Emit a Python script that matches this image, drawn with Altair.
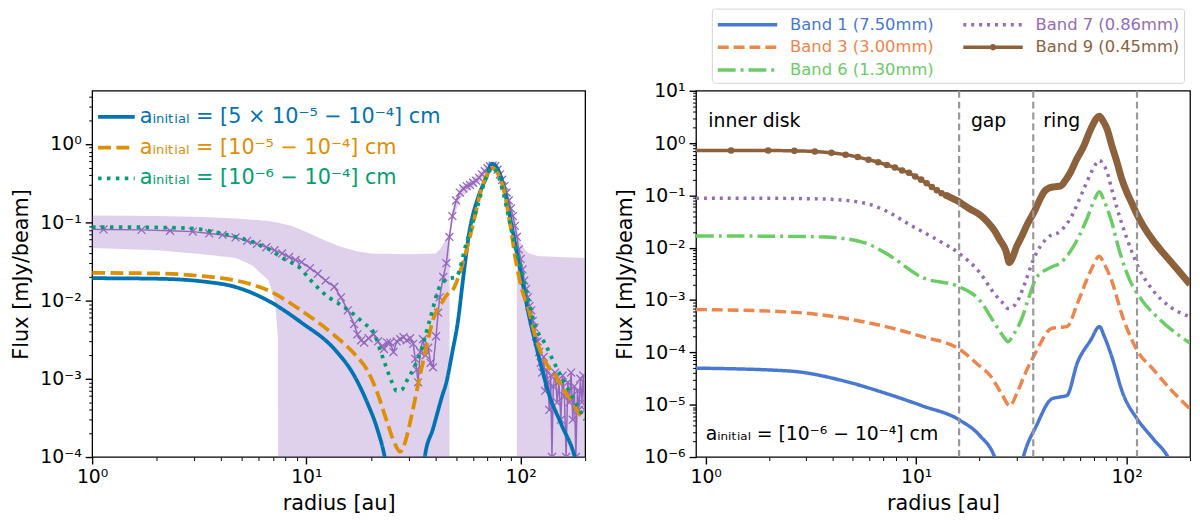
import altair as alt
import pandas as pd

FONT = "DejaVu Sans"

# ---------------- left panel: three initial grain-size ranges ----------------
A_LABELS = [
    "aᵢₙᵢₜᵢₐₗ = [5 × 10⁻⁵ − 10⁻⁴] cm",
    "aᵢₙᵢₜᵢₐₗ = [10⁻⁵ − 10⁻⁴] cm",
    "aᵢₙᵢₜᵢₐₗ = [10⁻⁶ − 10⁻⁴] cm",
]
A_COLORS = ["#0173B2", "#DE8F05", "#029E73"]
A_DASHES = [[1, 0], [13, 5.5], [3.5, 5.5]]

r_a5 = [1, 2, 3.3, 4.7, 6.7, 9.5, 13.5, 16.7, 19.2, 21.4, 23.2, 24.5, 26, 34, 35, 35.7,
        39, 43, 45, 48, 51, 54, 57.6, 63, 69, 73.5, 79, 84, 88, 94, 101, 108, 117, 126,
        135, 155, 179, 190]
f_a5 = [0.0193, 0.019, 0.0175, 0.0148, 0.0098, 0.0052, 0.0024, 0.0011, 0.0005, 0.00023,
        0.0001, 0.00004, 0.00001, 0.00001, 0.00005, 0.0001, 0.00023, 0.0006, 0.0009,
        0.0022, 0.0055, 0.02, 0.075, 0.2, 0.37, 0.56, 0.45, 0.26, 0.14, 0.055, 0.02,
        0.0075, 0.0029, 0.0013, 0.00066, 0.00026, 0.0001, 0.00005]

r_a6 = [1, 2, 3.3, 4.7, 6.7, 9.5, 13.5, 16.7, 19.2, 21.4, 23.8, 25.8, 27.4, 29, 30.5,
        33.9, 36.5, 39, 43, 46, 48.5, 50.5, 53.5, 59.5, 66, 70, 73.5, 79, 84, 89, 94.8,
        102, 109, 117, 125, 135, 145, 160, 175, 190, 200]
f_a6 = [0.0226, 0.0222, 0.0205, 0.018, 0.0133, 0.0074, 0.0036, 0.0021, 0.0013, 0.00067,
        0.00028, 0.00015, 0.000117, 0.00016, 0.00028, 0.0011, 0.0027, 0.0057, 0.0095,
        0.0125, 0.014, 0.018, 0.029, 0.087, 0.28, 0.42, 0.5, 0.4, 0.24, 0.1, 0.033,
        0.013, 0.0077, 0.0035, 0.0021, 0.0014, 0.0011, 0.0007, 0.0005, 0.00034, 0.0003]

r_a7 = [1, 2, 3, 4, 5, 6.7, 8, 9.2, 10.5, 12.6, 14, 16.7, 18.6, 20.6, 23, 25.1, 26.4,
        27.8, 29.4, 33.9, 37.7, 41.9, 46, 50, 55.7, 62, 69, 73.5, 78, 82, 88, 94, 101,
        108, 117, 130, 145, 160, 180, 200]
f_a7 = [0.087, 0.086, 0.083, 0.072, 0.062, 0.045, 0.033, 0.027, 0.018, 0.0112, 0.0093,
        0.0066, 0.0051, 0.0039, 0.0017, 0.0009, 0.0007, 0.00072, 0.00094, 0.0021,
        0.0057, 0.015, 0.019, 0.02, 0.053, 0.14, 0.37, 0.5, 0.42, 0.27, 0.115, 0.05,
        0.025, 0.011, 0.0047, 0.0028, 0.0015, 0.0009, 0.0005, 0.0003]

# observed profile (purple, x markers)
r_obs = [0.55, 1.13, 1.70, 2.31, 2.95, 3.52, 4.06, 4.67, 5.29, 5.88, 6.5, 7.1, 7.7, 8.3,
         8.9, 9.5, 10.4, 11.3, 12.3, 13.5, 14.5, 15.6, 16.7, 17.3, 18.0, 18.6, 19.5,
         20.6, 21.6, 22.5, 23.0, 23.8, 24.6, 25.5, 26.4, 27.4, 28.4, 29.4, 30.5, 31.5,
         32.2, 32.7, 33.2, 34.0, 35.0, 36.0, 37.0, 38.0, 39.0, 40.3, 41.2, 41.9, 43.5,
         45.0, 46.5, 48, 50, 52, 54, 56, 58, 60, 62, 64, 66, 68, 70, 72, 74, 76, 78, 80,
         82, 84, 86, 88, 90, 92, 94, 96, 98, 100, 102, 104, 106, 108, 110, 112, 114, 116,
         118, 120, 122, 124, 126, 128, 130, 132, 134, 136, 138, 140, 142, 145, 148, 151,
         154, 157, 160, 163, 166, 169, 172, 175, 178, 181, 184, 187, 190, 193, 196, 199]
f_obs = [0.082, 0.081, 0.080, 0.078, 0.076, 0.072, 0.069, 0.064, 0.058, 0.053, 0.048,
         0.044, 0.040, 0.036, 0.033, 0.031, 0.026, 0.022, 0.018, 0.015, 0.011, 0.0075,
         0.005, 0.0037, 0.0031, 0.0029, 0.0033, 0.0037, 0.0030, 0.0026, 0.0024, 0.0029,
         0.0029, 0.0022, 0.0030, 0.0032, 0.0034, 0.0031, 0.0033, 0.0028, 0.0018, 0.0013,
         0.0009, 0.0022, 0.0032, 0.0020, 0.0025, 0.0016, 0.0014, 0.0035, 0.007, 0.011,
         0.02, 0.03, 0.065, 0.12, 0.19, 0.24, 0.27, 0.29, 0.30, 0.32, 0.34, 0.37, 0.41,
         0.45, 0.49, 0.52, 0.53, 0.52, 0.47, 0.41, 0.35, 0.29, 0.24, 0.19, 0.15, 0.12,
         0.09, 0.065, 0.045, 0.034, 0.025, 0.018, 0.014, 0.011, 0.0085, 0.0075, 0.0055,
         0.0045, 0.0035, 0.0030, 0.0022, 0.0016, 0.0012, 0.0019, 0.0007, 0.0013, 0.0009,
         0.0004, 0.0011, 0.0001, 0.0008, 0.0012, 0.0005, 0.0009, 0.0003, 0.0011, 0.0006,
         0.0001, 0.0009, 0.0005, 0.0012, 0.0003, 0.0008, 0.0001, 0.0007, 0.0004, 0.0010,
         0.0005, 0.0011, 0.0004]

# uncertainty band of the observed profile
r_band = [1, 2, 3.3, 4.7, 5.6, 6.66, 7.15, 7.36, 7.4, 8.5, 10, 12, 14, 17, 20, 30, 40, 42,
          44, 46.5, 46.6, 48, 52, 58, 64, 70, 74, 78, 82, 86, 90, 94, 95.9, 96, 100, 105,
          110, 120, 150, 200]
band_hi = [0.122, 0.12, 0.117, 0.112, 0.108, 0.104, 0.1, 0.099, 0.099, 0.09, 0.075, 0.06,
           0.05, 0.043, 0.04, 0.039, 0.04, 0.045, 0.055, 0.075, 0.08, 0.14, 0.28, 0.34,
           0.42, 0.56, 0.6, 0.54, 0.4, 0.28, 0.18, 0.11, 0.09, 0.085, 0.055, 0.044, 0.04,
           0.037, 0.036, 0.035]
band_lo = [0.047, 0.044, 0.039, 0.035, 0.028, 0.018, 0.0093, 0.0035, 1e-5, 1e-5, 1e-5,
           1e-5, 1e-5, 1e-5, 1e-5, 1e-5, 1e-5, 1e-5, 1e-5, 1e-5, 0.055, 0.1, 0.2, 0.26,
           0.32, 0.43, 0.46, 0.41, 0.3, 0.2, 0.125, 0.075, 0.055, 1e-5, 1e-5, 1e-5, 1e-5,
           1e-5, 1e-5, 1e-5]

# ---------------- right panel: ALMA bands ----------------
BANDS = ["Band 1 (7.50mm)", "Band 3 (3.00mm)", "Band 6 (1.30mm)",
         "Band 7 (0.86mm)", "Band 9 (0.45mm)"]
BAND_COLORS = ["#4878D0", "#EE854A", "#6ACC64", "#956CB4", "#8C613C"]
BAND_DASHES = [[1, 0], [11, 5], [18, 5, 3, 5], [3, 5], [1, 0]]
BAND_WIDTHS = [3.5, 3.5, 3.5, 3.5, 2]

r_b1 = [0.9, 2.5, 4.6, 7, 10.7, 16.2, 20, 23.6, 25, 31, 32.3, 37.3, 44.2, 48, 52, 58.3,
        67.4, 74.3, 78, 83.8, 96.8, 112, 134, 157, 170]
f_b1 = [5e-5, 4.4e-5, 2.8e-5, 1.7e-5, 9.5e-6, 5e-6, 2.6e-6, 1e-6, 5e-7, 5e-7, 1e-6, 4e-6,
        1.3e-5, 1.4e-5, 1.5e-5, 6.3e-5, 1.7e-4, 3.1e-4, 2.1e-4, 9.8e-5, 1.5e-5, 5.4e-6,
        2.2e-6, 1e-6, 5e-7]

r_b3 = [0.9, 2.5, 5.7, 10.7, 16.2, 19.5, 22.6, 25.5, 27.9, 30, 33, 37, 44.2, 48, 52, 58.3,
        67.4, 74.3, 78, 83.8, 96.8, 112, 134, 161, 200]
f_b3 = [6.6e-4, 5.9e-4, 3.8e-4, 2.0e-4, 1.12e-4, 6e-5, 3.5e-5, 1.6e-5, 9.5e-6, 1.6e-5,
        4e-5, 1e-4, 2.9e-4, 3e-4, 3.1e-4, 8.5e-4, 3.6e-3, 6.9e-3, 5e-3, 2.7e-3, 4.2e-4,
        1.1e-4, 4.7e-5, 2e-5, 8.3e-6]

r_b6 = [0.9, 2, 3.7, 5.7, 7.2, 10.7, 16.2, 20, 23.6, 26, 27.3, 29, 31.6, 34.5, 37.3, 43.6,
        48.7, 54.2, 60, 65, 70, 74.3, 78, 83.8, 93.4, 104, 116, 144, 200]
f_b6 = [0.0168, 0.0166, 0.016, 0.0124, 0.0078, 0.0027, 0.00176, 0.001, 0.00036, 0.0002,
        0.00016, 0.00022, 0.00042, 0.0012, 0.0027, 0.0042, 0.0052, 0.0087, 0.018, 0.037,
        0.08, 0.117, 0.08, 0.037, 0.0075, 0.0023, 0.0011, 0.00042, 0.00015]

r_b7 = [0.9, 2, 3.7, 5.7, 7.3, 9.4, 12.1, 16.2, 20, 23.6, 26, 27.3, 28.8, 30.3, 32.7, 36.4,
        42, 48.7, 54.2, 62.7, 68, 72.4, 74.3, 77, 80.8, 85, 90, 100, 116, 134, 161, 200]
f_b7 = [0.088, 0.088, 0.085, 0.071, 0.049, 0.027, 0.0155, 0.0075, 0.0034, 0.0013, 0.00085,
        0.00069, 0.00074, 0.00095, 0.002, 0.0065, 0.0155, 0.021, 0.037, 0.135, 0.28, 0.43,
        0.47, 0.4, 0.28, 0.13, 0.057, 0.0155, 0.0036, 0.0015, 0.00074, 0.00048]

r_b9 = [0.66, 1.32, 1.98, 2.64, 3.30, 3.96, 4.62, 5.28, 5.94, 6.6, 7.26, 7.92, 8.58, 9.24,
        9.9, 10.56, 11.22, 11.88, 12.54, 13.2, 13.86, 14.52, 15.18, 15.84, 16.5, 18, 20,
        22, 23.6, 25, 26.7, 27.7, 28.7, 30, 31.5, 34, 36.4, 38.5, 40.6, 43, 45.3, 48.7,
        51, 54.2, 58, 62.7, 66, 69.9, 72, 74.3, 77, 80.8, 85, 90, 95, 100, 106, 112, 120,
        134, 147, 161, 180, 200]
f_b9 = [0.72, 0.72, 0.72, 0.71, 0.69, 0.65, 0.60, 0.54, 0.48, 0.43, 0.38, 0.34, 0.30, 0.27,
        0.23, 0.20, 0.17, 0.145, 0.125, 0.11, 0.10, 0.092, 0.084, 0.077, 0.069, 0.055,
        0.043, 0.03, 0.021, 0.014, 0.0087, 0.0052, 0.0065, 0.0105, 0.0155, 0.03, 0.049,
        0.08, 0.118, 0.14, 0.146, 0.152, 0.19, 0.28, 0.5, 0.89, 1.5, 2.45, 3.0, 3.27, 2.7,
        1.84, 0.9, 0.43, 0.2, 0.117, 0.07, 0.043, 0.026, 0.0135, 0.0085, 0.0056, 0.0033,
        0.002]

region_bounds = [16, 36, 112]
region_names = ["inner disk", "gap", "ring", "aᵢₙᵢₜᵢₐₗ = [10⁻⁶ − 10⁻⁴] cm"]
region_r = [1.03, 18.2, 40.2, 1.0]
region_f = [2.0, 2.0, 2.0, 2.1e-6]


def frame(key, name, r, f):
    return pd.DataFrame({key: name, "r": r, "flux": f})


def pick(labels, outputs, fallback):
    expr = fallback
    for lab, out in reversed(list(zip(labels, outputs))):
        expr = f"datum.label == '{lab}' ? {out} : ({expr})"
    return expr


# log axes in matplotlib style: labelled decades, short minor ticks
IS_MAJOR = "abs(log(datum.value) / LN10 - round(log(datum.value) / LN10)) < 0.001"
SUP = "['⁻⁶','⁻⁵','⁻⁴','⁻³','⁻²','⁻¹','⁰','¹','²']"
LABEL_EXPR = f"({IS_MAJOR}) ? '10' + {SUP}[round(log(datum.value) / LN10) + 6] : ''"


def log_ticks(lo, hi, top):
    return [m * 10.0 ** e for e in range(lo, hi + 1) for m in range(1, 10) if m * 10.0 ** e <= top]


def log_axis(values, title, title_pad):
    return alt.Axis(
        values=values, title=title, labelExpr=LABEL_EXPR,
        tickSize={"condition": {"test": IS_MAJOR, "value": 7}, "value": 3.5},
        tickWidth={"condition": {"test": IS_MAJOR, "value": 1.4}, "value": 1.0},
        labelOverlap=False, labelFlush=False, grid=False, domain=False,
        labelPadding=4, titlePadding=title_pad,
    )


# ---------------- left chart ----------------
xs_l = alt.Scale(type="log", domain=[1, 200], nice=False)
ys_l = alt.Scale(type="log", domain=[1e-4, 4.8], nice=False)
x_l = alt.X("r:Q", scale=xs_l, axis=log_axis(log_ticks(0, 2, 200), "radius [au]", 6))
y_axis_l = log_axis(log_ticks(-4, 0, 4.8), "Flux [mJy/beam]", 8)

left_lines = pd.concat([frame("size", A_LABELS[0], r_a5, f_a5),
                        frame("size", A_LABELS[1], r_a6, f_a6),
                        frame("size", A_LABELS[2], r_a7, f_a7)])
obs = pd.DataFrame({"r": r_obs, "flux": f_obs})
band = pd.DataFrame({"r": r_band, "hi": band_hi, "lo": band_lo})

left_legend = alt.Legend(
    title=None, orient="none", legendX=2, legendY=4, symbolType="stroke",
    symbolSize=1369, symbolStrokeWidth=3.8, labelFontSize=21, labelOffset=3,
    rowPadding=-1, padding=2, labelLimit=500,
    labelColor={"expr": pick(A_LABELS, [f"'{c}'" for c in A_COLORS], "'black'")},
)

band_layer = alt.Chart(band).mark_area(color="#9467BD", opacity=0.3, clip=True).encode(
    x=x_l, y=alt.Y("hi:Q", scale=ys_l, axis=y_axis_l), y2="lo:Q")

obs_line = alt.Chart(obs).mark_line(color="#9467BD", strokeWidth=1.5, clip=True).encode(
    x=x_l, y=alt.Y("flux:Q", scale=ys_l, axis=y_axis_l))

obs_marks = alt.Chart(obs).mark_point(
    shape="M-1,-1L1,1M-1,1L1,-1", color="#9467BD", size=64, strokeWidth=1.3,
    filled=False, opacity=1, clip=True,
).encode(x=x_l, y=alt.Y("flux:Q", scale=ys_l, axis=y_axis_l))

a_lines = alt.Chart(left_lines).mark_line(strokeWidth=3.8, clip=True, interpolate="monotone").encode(
    x=x_l,
    y=alt.Y("flux:Q", scale=ys_l, axis=y_axis_l),
    color=alt.Color("size:N", scale=alt.Scale(domain=A_LABELS, range=A_COLORS),
                    sort=A_LABELS, legend=left_legend),
    strokeDash=alt.StrokeDash("size:N", scale=alt.Scale(domain=A_LABELS, range=A_DASHES),
                              sort=A_LABELS, legend=left_legend),
)

left = alt.layer(band_layer, obs_line, obs_marks, a_lines).properties(width=498, height=370)

# ---------------- right chart ----------------
xs_r = alt.Scale(type="log", domain=[0.9, 200], nice=False)
ys_r = alt.Scale(type="log", domain=[1e-6, 10], nice=False)
x_r = alt.X("r:Q", scale=xs_r, axis=log_axis(log_ticks(0, 2, 200), "radius [au]", 6))
y_r = alt.Y("flux:Q", scale=ys_r, axis=log_axis(log_ticks(-6, 1, 10), "Flux [mJy/beam]", 8))

band_lines = pd.concat([frame("band", BANDS[0], r_b1, f_b1), frame("band", BANDS[1], r_b3, f_b3),
                        frame("band", BANDS[2], r_b6, f_b6), frame("band", BANDS[3], r_b7, f_b7),
                        frame("band", BANDS[4], r_b9, f_b9)])
b9 = pd.DataFrame({"r": r_b9, "flux": f_b9})

# long handle drawn from a short nominal symbol; Band 9 gets a dot in its middle
HANDLE = "M-1,0H5"
HANDLE_DOT = "M-1,0H5M1.85,0A0.15,0.15,0,1,1,2.15,0A0.15,0.15,0,1,1,1.85,0"
right_legend = alt.Legend(
    title=None, orient="none", legendX=16, legendY=-83, columns=2,
    symbolType={"expr": pick([BANDS[4]], [f"'{HANDLE_DOT}'"], f"'{HANDLE}'")},
    symbolSize=400, symbolOffset=0, symbolStrokeWidth=3.5,
    labelFontSize=16.5, labelOffset=51, columnPadding=22,
    rowPadding=2, padding=4, labelLimit=300,
    strokeColor="#d4d4d4", fillColor="white", cornerRadius=3,
    labelColor={"expr": pick(BANDS, [f"'{c}'" for c in BAND_COLORS], "'black'")},
)

thin = alt.Chart(band_lines).mark_line(clip=True, interpolate="monotone").encode(
    x=x_r, y=y_r,
    color=alt.Color("band:N", scale=alt.Scale(domain=BANDS, range=BAND_COLORS),
                    sort=BANDS, legend=right_legend),
    strokeDash=alt.StrokeDash("band:N", scale=alt.Scale(domain=BANDS, range=BAND_DASHES),
                              sort=BANDS, legend=right_legend),
    strokeWidth=alt.StrokeWidth("band:N", scale=alt.Scale(domain=BANDS, range=BAND_WIDTHS), legend=None),
)

b9_thick = alt.Chart(b9).transform_filter("datum.r >= 13.86").mark_line(
    color=BAND_COLORS[4], strokeWidth=7, clip=True, interpolate="monotone").encode(x=x_r, y=y_r)

b9_dots = alt.Chart(b9).transform_filter("datum.r < 14").mark_circle(
    color=BAND_COLORS[4], size=44, opacity=1, clip=True).encode(x=x_r, y=y_r)

bounds_layer = alt.Chart(pd.DataFrame({"r": region_bounds})).mark_rule(
    color="#999999", strokeWidth=2.2, strokeDash=[7, 4]).encode(x=x_r)

labels_layer = alt.Chart(pd.DataFrame({"r": region_r, "flux": region_f, "name": region_names})).mark_text(
    align="left", baseline="alphabetic", fontSize=19, color="black").encode(
    x=x_r, y=y_r, text="name:N")

right = alt.layer(thin, b9_thick, b9_dots, bounds_layer, labels_layer).properties(width=499, height=370)

chart = alt.hconcat(
    left, right, spacing=112, bounds="flush",
    padding={"left": 2, "right": 0, "top": -4, "bottom": 0},
).resolve_scale(
    color="independent", strokeDash="independent", strokeWidth="independent"
).resolve_legend(
    color="independent", strokeDash="independent"
).configure(font=FONT).configure_view(
    stroke="black", strokeWidth=1.3
).configure_axis(
    labelFont=FONT, titleFont=FONT, labelFontSize=19, titleFontSize=21,
    titleFontWeight="normal", labelColor="black", titleColor="black", tickColor="black",
).configure_legend(labelFont=FONT)

chart.save("out.html", embed_options={"renderer": "svg", "actions": False})
